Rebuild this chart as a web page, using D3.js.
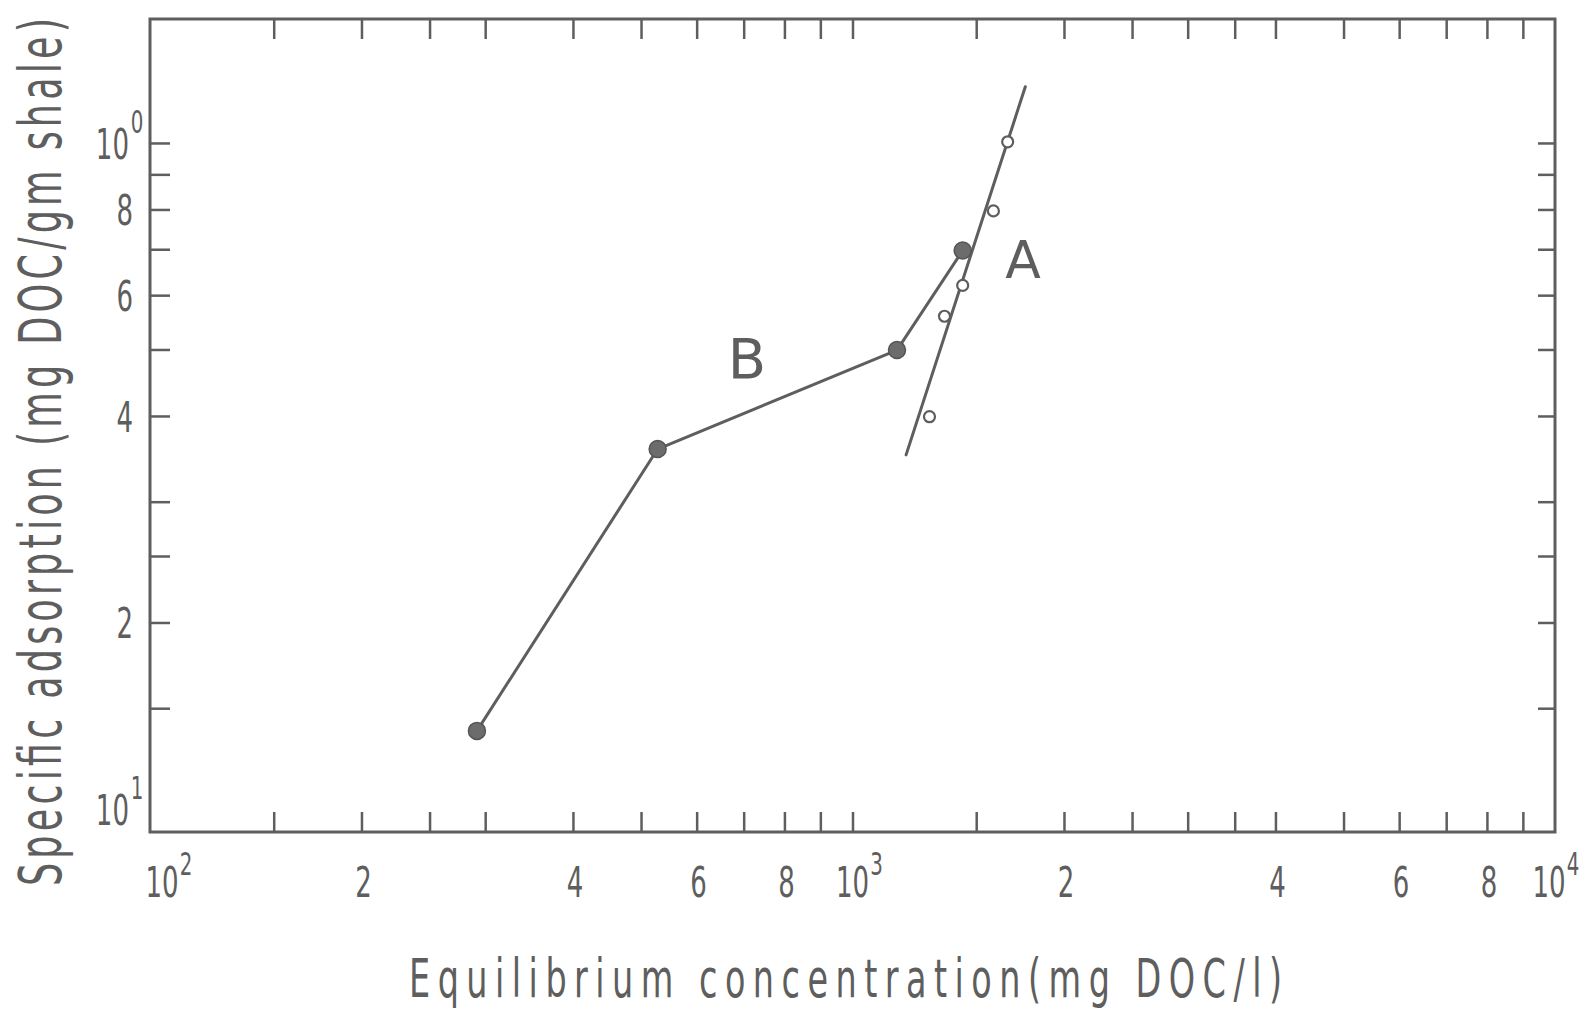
<!DOCTYPE html>
<html><head><meta charset="utf-8">
<script src="https://cdn.jsdelivr.net/npm/d3@7"></script>
<style>html,body{margin:0;padding:0;background:#fff;} svg{display:block;}</style>
</head><body>
<svg id="chart" width="1585" height="1014"></svg>
<script>
// ---- data ----
const seriesB_x = [292, 528, 1157, 1435];
const seriesB_y = [1.39, 3.58, 4.99, 6.97];
const seriesA_x = [1663, 1587, 1435, 1352, 1287];
const seriesA_y = [10.04, 7.96, 6.20, 5.59, 3.99];
const fitA_x = [1192, 1762];
const fitA_y = [3.51, 12.08];
const xTickValues = [150,200,250,300,400,500,600,700,800,900,1000,1500,2000,2500,3000,3500,4000,5000,6000,7000,8000,9000];
const yTickValues = [1.5,2,2.5,3,4,5,6,7,8,9,10];
const xLabelValues = [100,200,400,600,800,1000,2000,4000,6000,8000,10000];
const xLabelTexts = ["10^2","2","4","6","8","10^3","2","4","6","8","10^4"];
const yLabelValues = [1,2,4,6,8,10];
const yLabelTexts = ["10^1","2","4","6","8","10^0"];
const seriesNames = ["A","B"];
const xTitle = "Equilibrium concentration(mg DOC/l)";
const yTitle = "Specific adsorption (mg DOC/gm shale)";

// ---- layout ----
const pLeft = 150, pRight = 1555, pTop = 19, pBottom = 832;
const ink = "#5e5e5e";
const font = "'DejaVu Sans', sans-serif";

const x = d3.scaleLog().domain([100, 10000]).range([pLeft, pRight]);
const y = d3.scaleLog().domain([0.99, 15.16]).range([pBottom, pTop]);

const svg = d3.select("#chart");

// ticks (inward)
svg.append("g").attr("transform", `translate(0,${pBottom})`)
  .call(d3.axisBottom(x).tickValues(xTickValues).tickSize(-20).tickFormat(""));
svg.append("g").attr("transform", `translate(0,${pTop})`)
  .call(d3.axisTop(x).tickValues(xTickValues).tickSize(-20).tickFormat(""));
svg.append("g").attr("transform", `translate(${pLeft},0)`)
  .call(d3.axisLeft(y).tickValues(yTickValues).tickSize(-20).tickFormat(""));
svg.append("g").attr("transform", `translate(${pRight},0)`)
  .call(d3.axisRight(y).tickValues(yTickValues).tickSize(-17).tickFormat(""));
svg.selectAll(".domain").remove();
svg.selectAll(".tick line").attr("stroke", ink).attr("stroke-width", 2.5);

// frame
svg.append("rect").attr("x", pLeft).attr("y", pTop)
  .attr("width", pRight - pLeft).attr("height", pBottom - pTop)
  .attr("fill", "none").attr("stroke", ink).attr("stroke-width", 3);

// tick labels
function drawLabel(px, baseY, txt, anchor, sx, raise) {
  const parts = txt.split("^");
  const g = svg.append("g").attr("transform", `translate(${px},${baseY}) scale(${sx},1)`);
  const t = g.append("text").attr("x", 0).attr("y", 0)
    .attr("text-anchor", anchor).attr("font-family", font)
    .attr("font-size", 42).attr("fill", ink).text(parts[0]);
  if (parts.length > 1) {
    const len = t.node().getComputedTextLength();
    const sxPos = anchor === "middle" ? len / 2 + 2 : 3;
    g.append("text").attr("x", sxPos).attr("y", -raise)
      .attr("text-anchor", "start").attr("font-family", font)
      .attr("font-size", 32).attr("fill", ink).text(parts[1]);
  }
}
xLabelValues.forEach((v, i) => {
  let dx = 0;
  if (i === 0) dx = 12;
  if (i === xLabelValues.length - 1) dx = -6;
  drawLabel(x(v) + dx + (xLabelTexts[i].includes("^") ? 0 : 2), 897, xLabelTexts[i], "middle", 0.62, 22);
});
yLabelValues.forEach((v, i) => {
  const isSup = yLabelTexts[i].includes("^");
  let base = y(v) + 16;
  if (i === 0) base = 825;
  drawLabel(isSup ? 129 : 133, base, yLabelTexts[i], "end", 0.62, 26);
});

// line A (fit) and series B polyline
const line = d3.line().x(d => x(d[0])).y(d => y(d[1]));
svg.append("path").datum(d3.zip(fitA_x, fitA_y)).attr("d", line)
  .attr("fill", "none").attr("stroke", ink).attr("stroke-width", 3).attr("stroke-linecap", "round");
svg.append("path").datum(d3.zip(seriesB_x, seriesB_y)).attr("d", line)
  .attr("fill", "none").attr("stroke", ink).attr("stroke-width", 3).attr("stroke-linejoin", "round");

// points
svg.append("g").selectAll("circle").data(d3.zip(seriesB_x, seriesB_y)).join("circle")
  .attr("cx", d => x(d[0])).attr("cy", d => y(d[1])).attr("r", 8.5)
  .attr("fill", "#6c6c6c").attr("stroke", "#555").attr("stroke-width", 1.5);
svg.append("g").selectAll("circle").data(d3.zip(seriesA_x, seriesA_y)).join("circle")
  .attr("cx", d => x(d[0])).attr("cy", d => y(d[1])).attr("r", 5.5)
  .attr("fill", "#fff").attr("stroke", ink).attr("stroke-width", 2.2);

// series labels
svg.append("text").attr("x", 1023).attr("y", 278).attr("text-anchor", "middle")
  .attr("font-family", font).attr("font-size", 52).attr("fill", ink).text(seriesNames[0]);
svg.append("text").attr("x", 747).attr("y", 378).attr("text-anchor", "middle")
  .attr("font-family", font).attr("font-size", 56).attr("fill", ink).text(seriesNames[1]);

// axis titles (condensed glyphs, wide spacing)
const tsx = 0.62;
svg.append("g").attr("transform", `translate(845.5,997) scale(${tsx},1)`)
  .append("text").attr("x", 0).attr("y", 0).attr("text-anchor", "middle")
  .attr("font-family", font).attr("font-size", 54).attr("fill", ink)
  .attr("textLength", 873 / tsx).attr("lengthAdjust", "spacing").text(xTitle);
svg.append("g").attr("transform", `translate(61,452) rotate(-90) scale(${tsx},1)`)
  .append("text").attr("x", 0).attr("y", 0).attr("text-anchor", "middle")
  .attr("font-family", font).attr("font-size", 59).attr("fill", ink)
  .attr("textLength", 868 / tsx).attr("lengthAdjust", "spacing").text(yTitle);
</script>
</body></html>
